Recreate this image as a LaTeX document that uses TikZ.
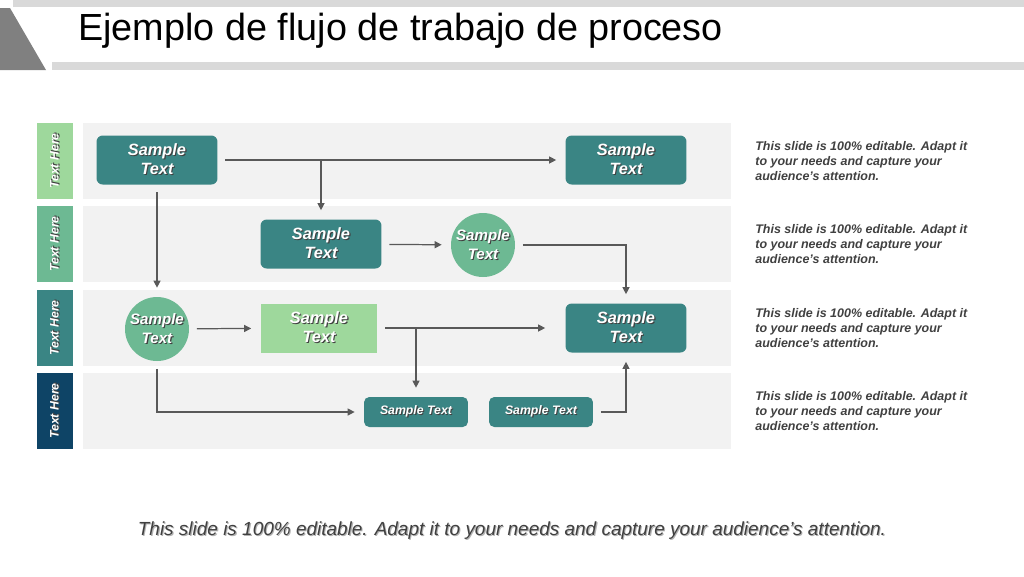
\documentclass[tikz,border=0pt]{standalone}
\usepackage{fontspec}
\setmainfont{Liberation Sans}
\usetikzlibrary{arrows.meta}

\definecolor{tealbox}{HTML}{3A8584}
\definecolor{midgreen}{HTML}{6DB993}
\definecolor{lightgreen}{HTML}{9ED89C}
\definecolor{navylane}{HTML}{0E4466}
\definecolor{lanebg}{HTML}{F2F2F2}
\definecolor{linegray}{HTML}{595959}
\definecolor{bargray}{HTML}{D9D9D9}
\definecolor{wedgegray}{HTML}{808080}
\definecolor{notegray}{HTML}{404040}

% white text with a dark drop shadow
\newcommand\shd[1]{\leavevmode\rlap{\kern0.6pt\raisebox{-0.6pt}{\textcolor{black!75}{#1}}}#1}
% dark text with a light drop shadow
\newcommand\lshd[1]{\leavevmode\rlap{\kern0.6pt\raisebox{-0.6pt}{\textcolor{black!30}{#1}}}#1}

\begin{document}
\begin{tikzpicture}[x=0.02cm,y=-0.02cm,
  box/.style={rectangle,fill=tealbox,rounded corners=3.5pt,minimum width=2.42cm,minimum height=0.98cm,
    inner sep=0pt,align=center,text=white,font=\fontsize{9.3}{10.8}\selectfont\bfseries\itshape},
  roundbox/.style={box,circle,fill=midgreen,rounded corners=0pt,minimum width=0pt,minimum height=0pt,
    minimum size=1.28cm,inner sep=-1.5pt,font=\fontsize{8.6}{10.4}\selectfont\bfseries\itshape},
  plainbox/.style={box,fill=lightgreen,rounded corners=0pt,minimum width=2.34cm},
  smallbox/.style={box,rounded corners=3pt,minimum width=2.08cm,minimum height=0.6cm,
    font=\fontsize{7}{8}\selectfont\bfseries\itshape},
  lanelabel/.style={rotate=90,minimum width=1.52cm,minimum height=0.72cm,inner sep=0pt,
    text=white,font=\fontsize{7}{8}\selectfont\bfseries\itshape},
  note/.style={anchor=west,align=left,inner sep=0pt,text=notegray,
    font=\fontsize{7.1}{8.8}\selectfont\bfseries\itshape},
  flow/.style={draw=linegray,line width=0.7pt,-{Triangle[length=4pt,width=4pt]},
    shorten >=0.18cm,shorten <=0.15cm}]
  \useasboundingbox (0,0) rectangle (1024,576);

  % header
  \fill[bargray] (13,0) rectangle (1024,7);
  \fill[bargray] (52,62) rectangle (1024,70);
  \fill[wedgegray] (0,8) -- (10,8) -- (46,70) -- (0,70) -- cycle;
  \node[anchor=base west,inner sep=0pt,font=\fontsize{21.5}{26}\selectfont] (title) at (78,40)
    {Ejemplo de flujo de trabajo de proceso};

  % lanes
  \foreach \y/\col/\i in {161/lightgreen/1,244/midgreen/2,328/tealbox/3,411/navylane/4}{
    \fill[lanebg] (83,{\y-38}) rectangle (731,{\y+38});
    \node[lanelabel,fill=\col,at={(55,\y)}] (lane\i) {\shd{Text Here}};
    \node[note,at={(755,\y)}] (note\i)
      {This slide is 100\% editable. Adapt it\\to your needs and capture your\\audience’s attention.};
  }

  % steps
  \node[box,at={(157,160)}] (a) {\shd{Sample}\\\shd{Text}};
  \node[box,at={(626,160)}] (b) {\shd{Sample}\\\shd{Text}};
  \node[box,at={(321,244)}] (c) {\shd{Sample}\\\shd{Text}};
  \node[roundbox,at={(483,245)}] (d) {\shd{Sample}\\\shd{Text}};
  \node[roundbox,at={(157,329)}] (e) {\shd{Sample}\\\shd{Text}};
  \node[plainbox,at={(319,328)}] (f) {\shd{Sample}\\\shd{Text}};
  \node[box,at={(626,328)}] (g) {\shd{Sample}\\\shd{Text}};
  \node[smallbox,at={(416,412)}] (h) {\shd{Sample Text}};
  \node[smallbox,at={(541,412)}] (i) {\shd{Sample Text}};

  % connectors
  \draw[flow] (a) -- (b);
  \coordinate (j1) at (c |- a);
  \draw[flow,shorten <=0pt] (j1) -- (c);
  \draw[flow] (a) -- (e);
  \draw[flow] (c) -- (d);
  \draw[flow] (d) -| (g);
  \draw[flow] (e) -- (f);
  \draw[flow,shorten >=0.4cm] (f) -- (g);
  \coordinate (j2) at (h |- f);
  \draw[flow,shorten <=0pt] (j2) -- (h);
  \draw[flow] (e) |- (h);
  \draw[flow] (i) -| (g);

  % footer
  \node[font=\fontsize{10.8}{12}\selectfont\itshape,text=notegray] (foot) at (512,531)
    {\lshd{This slide is 100\% editable. Adapt it to your needs and capture your audience’s attention.}};
\end{tikzpicture}
\end{document}
